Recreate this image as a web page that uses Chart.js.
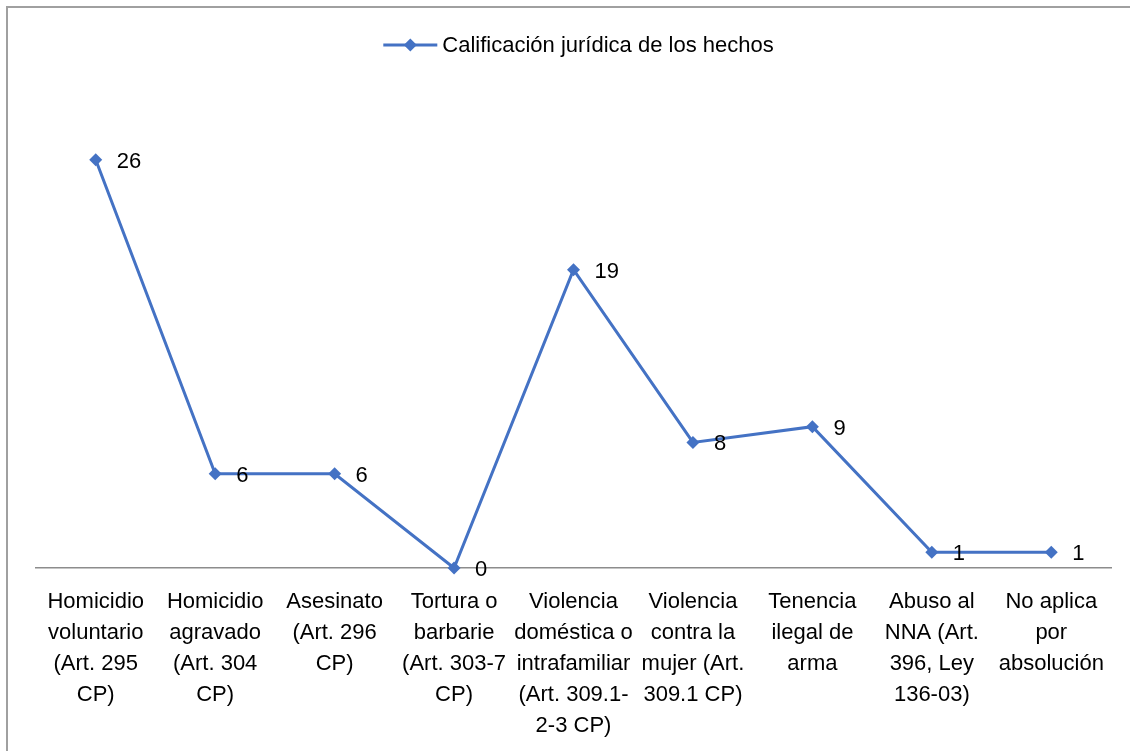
<!DOCTYPE html>
<html>
<head>
<meta charset="utf-8">
<script src="https://cdn.jsdelivr.net/npm/chart.js@4/dist/chart.umd.min.js"></script>
<style>
    html, body { margin: 0; padding: 0; background: #fff; overflow: hidden; }
    #wrap { position: relative; width: 1130px; height: 751px; overflow: hidden; }
    #frame { position: absolute; left: 6px; top: 6px; right: -10px; bottom: -10px; border-left: 2px solid #a0a0a0; border-top: 2px solid #a0a0a0; pointer-events: none; }
    canvas { position: absolute; left: 0; top: 0; }
</style>
</head>
<body>
<div id="wrap">
    <canvas id="chart" width="1130" height="757"></canvas>
    <div id="frame"></div>
</div>
<script>
// Chart data
const seriesName = 'Calificación jurídica de los hechos';

const categories = [
    ['Homicidio', 'voluntario', '(Art. 295', 'CP)'],
    ['Homicidio', 'agravado', '(Art. 304', 'CP)'],
    ['Asesinato', '(Art. 296', 'CP)'],
    ['Tortura o', 'barbarie', '(Art. 303-7', 'CP)'],
    ['Violencia', 'doméstica o', 'intrafamiliar', '(Art. 309.1-', '2-3 CP)'],
    ['Violencia', 'contra la', 'mujer (Art.', '309.1 CP)'],
    ['Tenencia', 'ilegal de', 'arma'],
    ['Abuso al', 'NNA (Art.', '396, Ley', '136-03)'],
    ['No aplica', 'por', 'absolución']
];

const values = [26, 6, 6, 0, 19, 8, 9, 1, 1];

const lineColor = '#4472C4';
const fontFamily = '"Liberation Sans", Arial, sans-serif';

// Value labels to the right of each point
const valueLabels = {
    id: 'valueLabels',
    afterDatasetsDraw(chart) {
        const ctx = chart.ctx;
        const meta = chart.getDatasetMeta(0);
        ctx.save();
        ctx.font = '22px ' + fontFamily;
        ctx.fillStyle = '#000';
        ctx.textAlign = 'left';
        ctx.textBaseline = 'middle';
        meta.data.forEach((pt, i) => {
            ctx.fillText(String(values[i]), pt.x + 21, pt.y + 2);
        });
        ctx.restore();
    }
};

// Legend: line with a diamond, then the series name
const lineLegend = {
    id: 'lineLegend',
    afterDraw(chart) {
        const ctx = chart.ctx;
        ctx.save();
        ctx.font = '22px ' + fontFamily;
        const textW = ctx.measureText(seriesName).width;
        const sampleW = 54, gap = 5;
        const total = sampleW + gap + textW;
        const cx = (chart.chartArea.left + chart.chartArea.right) / 2 + 5;
        const x0 = cx - total / 2;
        const y = 45;
        ctx.strokeStyle = lineColor;
        ctx.lineWidth = 3;
        ctx.beginPath();
        ctx.moveTo(x0, y);
        ctx.lineTo(x0 + sampleW, y);
        ctx.stroke();
        // diamond
        const mx = x0 + sampleW / 2, r = 6.5;
        ctx.fillStyle = lineColor;
        ctx.beginPath();
        ctx.moveTo(mx, y - r);
        ctx.lineTo(mx + r, y);
        ctx.lineTo(mx, y + r);
        ctx.lineTo(mx - r, y);
        ctx.closePath();
        ctx.fill();
        ctx.fillStyle = '#000';
        ctx.textAlign = 'left';
        ctx.textBaseline = 'middle';
        ctx.fillText(seriesName, x0 + sampleW + gap, y + 1);
        ctx.restore();
    }
};

new Chart(document.getElementById('chart'), {
    type: 'line',
    data: {
        labels: categories,
        datasets: [{
            label: seriesName,
            data: values,
            borderColor: lineColor,
            backgroundColor: lineColor,
            borderWidth: 3,
            pointStyle: 'rectRot',
            pointRadius: 6.5,
            pointBorderWidth: 0,
            pointBackgroundColor: lineColor,
            tension: 0,
            clip: false
        }]
    },
    options: {
        responsive: false,
        animation: false,
        layout: {
            padding: { left: 36, right: 19, top: 97, bottom: 5 }
        },
        plugins: {
            legend: { display: false },
            tooltip: { enabled: false }
        },
        scales: {
            x: {
                offset: true,
                grid: { display: false },
                border: { display: true, color: '#8c8c8c', width: 1.5 },
                ticks: {
                    color: '#000',
                    font: { family: fontFamily, size: 22, lineHeight: 1.4 },
                    padding: 11,
                    maxRotation: 0,
                    autoSkip: false
                }
            },
            y: {
                display: false,
                min: 0,
                max: 30
            }
        }
    },
    plugins: [valueLabels, lineLegend]
});
</script>
</body>
</html>
